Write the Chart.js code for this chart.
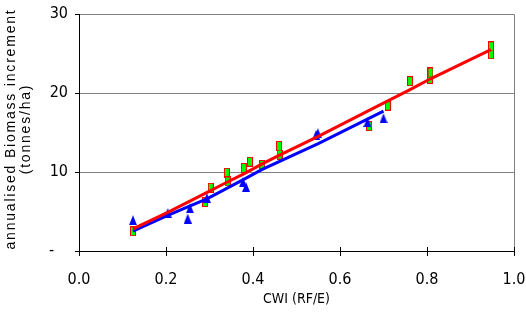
<!DOCTYPE html>
<html>
<head>
<meta charset="utf-8">
<script src="https://cdn.jsdelivr.net/npm/chart.js@4.4.1/dist/chart.umd.min.js"></script>
<style>
  html, body { margin: 0; padding: 0; background: #fff; }
  #wrap { width: 526px; height: 327px; }
</style>
</head>
<body>
<div id="wrap"><canvas id="chart" width="526" height="327"></canvas></div>
<script>
// Observed biomass increment (green squares)
const obsX = [0.124, 0.290, 0.303, 0.340, 0.342, 0.379, 0.393, 0.421, 0.460, 0.461, 0.667, 0.710, 0.761, 0.807, 0.808, 0.947, 0.947];
const obsY = [2.5, 6.2, 8.0, 9.9, 8.8, 10.5, 11.3, 10.9, 13.3, 12.2, 15.8, 18.4, 21.5, 21.8, 22.6, 24.9, 25.9];

// Second sample set (blue triangles)
const triX = [0.124, 0.204, 0.255, 0.250, 0.294, 0.377, 0.384, 0.549, 0.545, 0.663, 0.700];
const triY = [3.9, 4.8, 5.4, 4.1, 6.7, 8.7, 8.1, 14.9, 14.7, 16.3, 16.8];

// Fitted lines
const redFitX = [0.124, 0.204, 0.290, 0.340, 0.380, 0.420, 0.460, 0.550, 0.667, 0.710, 0.760, 0.808, 0.947];
const redFitY = [2.8, 4.9, 7.3, 8.7, 9.8, 11.0, 12.1, 14.5, 17.8, 19.0, 20.4, 21.8, 25.5];
const blueFitX = [0.124, 0.204, 0.250, 0.294, 0.380, 0.420, 0.550, 0.663, 0.700];
const blueFitY = [2.5, 4.5, 5.6, 6.6, 9.1, 10.3, 13.6, 16.7, 17.7];

// Axis ticks / titles
const xTicks = [0.0, 0.2, 0.4, 0.6, 0.8, 1.0];
const yTicks = [0, 10, 20, 30];
const xTitle = 'CWI (RF/E)';
const yTitle = ['annualised Biomass increment', '(tonnes/ha)'];

const NARROW = "'Liberation Sans Narrow', 'Arial Narrow', 'DejaVu Sans Condensed', sans-serif";
const REGULAR = "'Liberation Sans', Arial, sans-serif";

function toPoints(xs, ys) {
    return xs.map((x, i) => ({ x: x, y: ys[i] }));
}

// marker images
const squareMark = document.createElement('canvas');
squareMark.width = 6;
squareMark.height = 10;
(function () {
    const c = squareMark.getContext('2d');
    c.fillStyle = '#00ff00';
    c.fillRect(0, 0, 6, 10);
    c.strokeStyle = '#ff0000';
    c.lineWidth = 1;
    c.strokeRect(0.5, 0.5, 5, 9);
})();

const triMark = document.createElement('canvas');
triMark.width = 8;
triMark.height = 10;
(function () {
    const c = triMark.getContext('2d');
    c.fillStyle = '#0000ff';
    c.beginPath();
    c.moveTo(4, 0);
    c.lineTo(8, 10);
    c.lineTo(0, 10);
    c.closePath();
    c.fill();
})();

// axes, ticks and the rotated y title
const framePlugin = {
    id: 'frame',
    beforeDatasetsDraw(chart) {
        const { ctx, chartArea: a, scales } = chart;
        const x = scales.x, y = scales.y;
        ctx.save();
        ctx.lineWidth = 1;
        ctx.strokeStyle = '#808080';
        ctx.beginPath();
        ctx.moveTo(a.left, a.top + 0.5);
        ctx.lineTo(a.right + 0.5, a.top + 0.5);
        ctx.lineTo(a.right + 0.5, a.bottom);
        ctx.stroke();

        ctx.strokeStyle = '#000';
        ctx.beginPath();
        ctx.moveTo(a.left + 0.5, a.top);
        ctx.lineTo(a.left + 0.5, a.bottom + 0.5);
        ctx.lineTo(a.right + 1, a.bottom + 0.5);
        xTicks.forEach(v => {
            const px = Math.round(x.getPixelForValue(v)) + 0.5;
            ctx.moveTo(px, a.bottom - 4);
            ctx.lineTo(px, a.bottom + 5);
        });
        yTicks.forEach(v => {
            const py = Math.round(y.getPixelForValue(v)) + 0.5;
            ctx.moveTo(a.left - 4, py);
            ctx.lineTo(a.left, py);
        });
        ctx.stroke();
        ctx.restore();
    },
    afterDraw(chart) {
        const ctx = chart.ctx;
        ctx.save();
        ctx.translate(11, 129);
        ctx.rotate(-Math.PI / 2);
        ctx.font = '14px ' + REGULAR;
        ctx.letterSpacing = '1.8px';
        ctx.fillStyle = '#000';
        ctx.textAlign = 'center';
        ctx.textBaseline = 'middle';
        ctx.fillText(yTitle[0], 0, 0);
        ctx.fillText(yTitle[1], 0, 15);
        ctx.restore();
    }
};

new Chart(document.getElementById('chart'), {
    type: 'scatter',
    data: {
        datasets: [
            {
                type: 'line',
                label: 'fit 1',
                data: toPoints(redFitX, redFitY),
                borderColor: '#ff0000',
                borderWidth: 3,
                pointRadius: 0,
                fill: false,
                tension: 0
            },
            {
                type: 'line',
                label: 'fit 2',
                data: toPoints(blueFitX, blueFitY),
                borderColor: '#0000ff',
                borderWidth: 3,
                pointRadius: 0,
                fill: false,
                tension: 0
            },
            {
                label: 'set 2',
                data: toPoints(triX, triY),
                pointStyle: triMark,
                pointRadius: 5
            },
            {
                label: 'observed',
                data: toPoints(obsX, obsY),
                pointStyle: squareMark,
                pointRadius: 5
            }
        ]
    },
    options: {
        responsive: false,
        animation: false,
        layout: { padding: { left: 0, right: 12, top: 14, bottom: 0 } },
        plugins: {
            legend: { display: false },
            tooltip: { enabled: false }
        },
        scales: {
            x: {
                type: 'linear',
                min: 0,
                max: 1,
                afterFit: s => {
                    s.height = 76;
                    s.paddingLeft = 0;
                    s.paddingRight = 0;
                },
                afterBuildTicks: s => { s.ticks = xTicks.map(v => ({ value: v })); },
                grid: { display: false },
                border: { display: false },
                ticks: {
                    padding: 11,
                    color: '#000',
                    font: { family: NARROW, size: 16 },
                    callback: v => Number(v).toFixed(1)
                },
                title: {
                    display: true,
                    text: xTitle,
                    color: '#000',
                    font: { family: NARROW, size: 14 },
                    padding: { top: 0, bottom: 19 }
                }
            },
            y: {
                min: 0,
                max: 30,
                afterFit: s => {
                    s.width = 79;
                    s.paddingTop = 0;
                    s.paddingBottom = 0;
                },
                afterBuildTicks: s => { s.ticks = yTicks.map(v => ({ value: v })); },
                grid: { color: '#808080', lineWidth: 1, drawTicks: false },
                border: { display: false },
                ticks: {
                    padding: 11,
                    color: '#000',
                    font: { family: NARROW, size: 16 },
                    callback: v => (v === 0 ? '-   ' : String(v))
                }
            }
        }
    },
    plugins: [framePlugin]
});
</script>
</body>
</html>
